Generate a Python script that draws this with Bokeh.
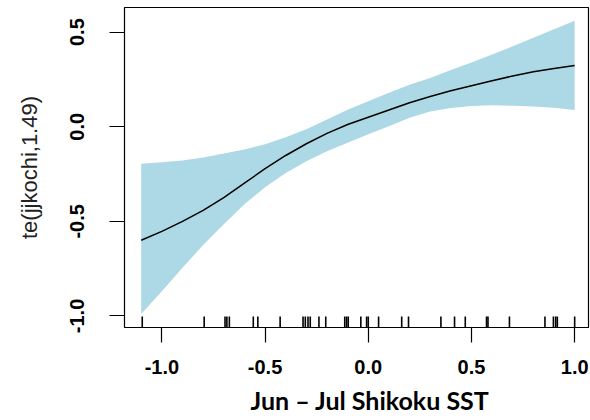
from bokeh.plotting import figure
from bokeh.models import Range1d, FixedTicker, Title, ColumnDataSource
from bokeh.embed import file_html
from bokeh.resources import INLINE

# ---- data ----
sst = [-1.10, -1.00, -0.90, -0.80, -0.70, -0.60, -0.50, -0.40, -0.30, -0.20, -0.10,
       0.00, 0.10, 0.20, 0.30, 0.40, 0.50, 0.60, 0.70, 0.80, 0.90, 1.00]
fit = [-0.600, -0.553, -0.500, -0.442, -0.375, -0.298, -0.222, -0.152, -0.090, -0.035, 0.012,
       0.050, 0.088, 0.127, 0.160, 0.190, 0.217, 0.243, 0.268, 0.291, 0.308, 0.323]
upper = [-0.196, -0.188, -0.178, -0.163, -0.142, -0.120, -0.092, -0.055, -0.013, 0.038, 0.090,
         0.135, 0.180, 0.222, 0.258, 0.300, 0.340, 0.382, 0.425, 0.470, 0.515, 0.560]
lower = [-0.990, -0.870, -0.745, -0.625, -0.515, -0.410, -0.320, -0.245, -0.183, -0.130, -0.085,
         -0.040, 0.003, 0.048, 0.080, 0.099, 0.109, 0.113, 0.111, 0.107, 0.100, 0.089]
rug = [-1.095, -0.795, -0.694, -0.685, -0.673, -0.557, -0.535, -0.427, -0.316, -0.305,
       -0.292, -0.281, -0.239, -0.206, -0.114, -0.105, -0.097, -0.036, -0.008, 0.000,
       0.050, 0.162, 0.195, 0.352, 0.418, 0.470, 0.573, 0.580, 0.684, 0.856, 0.897,
       0.908, 0.916, 1.000]
x_ticks = [-1.0, -0.5, 0.0, 0.5, 1.0]
y_ticks = [-1.0, -0.5, 0.0, 0.5]
x_title = "Jun \u2013 Jul Shikoku SST"
y_title = "te(jjkochi,1.49)"

X_RANGE = (-1.181, 1.067)
Y_RANGE = (-1.061, 0.630)
RUG_LEN = 0.058

p = figure(width=590, height=420, output_backend="svg", toolbar_location=None,
           x_range=Range1d(*X_RANGE), y_range=Range1d(*Y_RANGE),
           min_border_left=124, min_border_right=2, min_border_top=7, min_border_bottom=91)
p.background_fill_color = "white"
p.border_fill_color = "white"
p.grid.visible = False
p.outline_line_color = "black"
p.outline_line_width = 1.2
p.outline_line_alpha = 1

band = ColumnDataSource(dict(x=sst, lo=lower, hi=upper, fit=fit))
p.varea(x="x", y1="lo", y2="hi", source=band, fill_color="#ADD8E6")
p.line(x="x", y="fit", source=band, line_color="black", line_width=1.5)

ys = Y_RANGE[0]
p.segment(x0=rug, x1=rug, y0=[ys] * len(rug), y1=[ys + RUG_LEN] * len(rug),
          line_color="black", line_width=1.6)

for ax in (p.xaxis[0], p.yaxis[0]):
    ax.axis_line_color = None
    ax.major_tick_line_color = "black"
    ax.major_tick_line_width = 1.2
    ax.major_tick_out = 15
    ax.major_tick_in = 0
    ax.minor_tick_line_color = None
    ax.major_label_text_font = "Liberation Sans"
    ax.major_label_text_font_style = "bold"
    ax.major_label_text_font_size = "20px"
    ax.major_label_text_color = "black"

p.xaxis[0].ticker = FixedTicker(ticks=x_ticks)
p.xaxis[0].major_label_overrides = {t: f"{t:.1f}" for t in x_ticks}
p.xaxis[0].major_label_standoff = 17

p.yaxis[0].ticker = FixedTicker(ticks=y_ticks)
p.yaxis[0].major_label_overrides = {t: f"{t:.1f}" for t in y_ticks}
p.yaxis[0].major_label_orientation = "vertical"
p.yaxis[0].major_label_standoff = 25
p.yaxis[0].axis_label = y_title
p.yaxis[0].axis_label_text_font = "Liberation Sans"
p.yaxis[0].axis_label_text_font_style = "normal"
p.yaxis[0].axis_label_text_font_size = "22px"
p.yaxis[0].axis_label_text_color = "#222222"
p.yaxis[0].axis_label_standoff = 26

p.add_layout(Title(text=x_title, align="left", offset=126, standoff=12,
                   text_font="Lato", text_font_style="bold", text_font_size="25px",
                   text_color="black"), "below")

open("out.html", "w").write(file_html(p, INLINE))
